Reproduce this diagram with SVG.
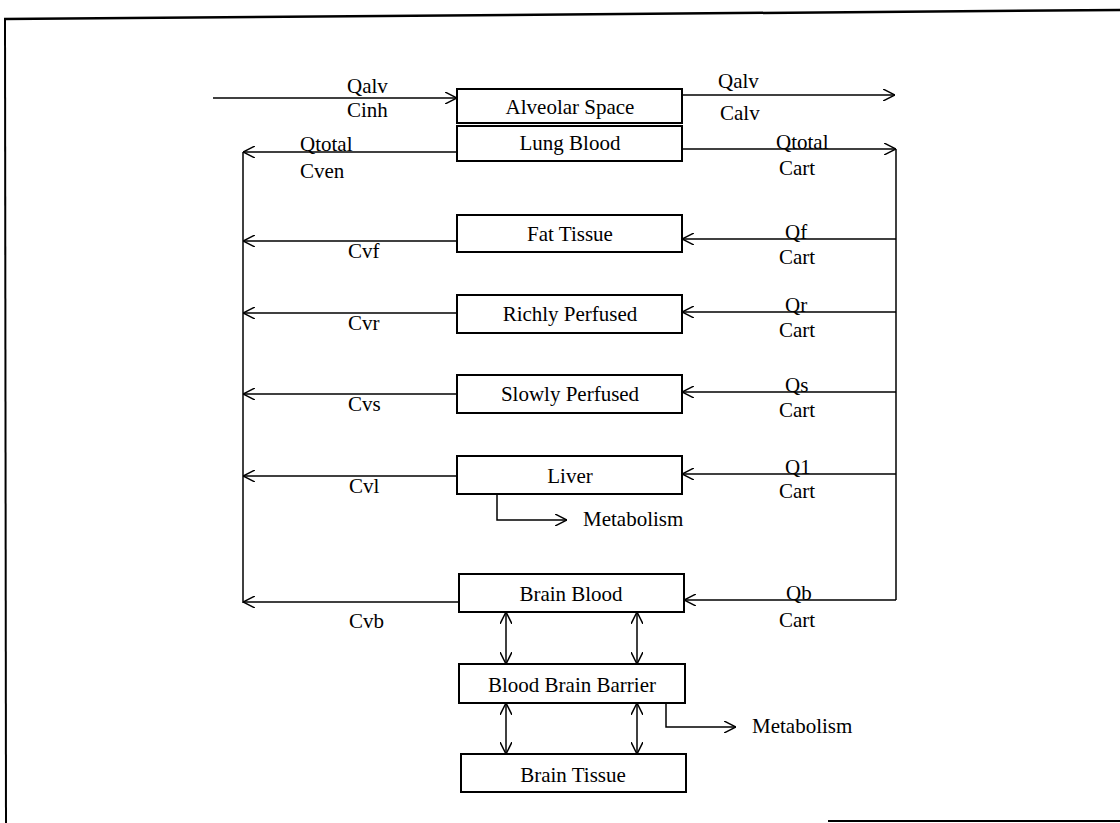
<svg xmlns="http://www.w3.org/2000/svg" width="1120" height="823" viewBox="0 0 1120 823">
<style>
.box{fill:#fff;stroke:#000;stroke-width:2}
.lbl{font-family:"Liberation Serif","Times New Roman",serif;font-size:21px;fill:#000}
.c{text-anchor:middle}
.ln{fill:none;stroke:#000;stroke-width:1.5}
</style>
<defs>
<marker id="ah" viewBox="0 0 12 12" refX="12" refY="6" markerWidth="12" markerHeight="12" markerUnits="userSpaceOnUse" orient="auto-start-reverse">
<path d="M0,0 L12,6 L0,12" fill="none" stroke="#000" stroke-width="1.5"/>
</marker>
</defs>
<g id="frame">
<path d="M4,19 L1120,10" fill="none" stroke="#000" stroke-width="2.5"/>
<path d="M5,19 L6,823" fill="none" stroke="#000" stroke-width="2"/>
<path d="M828,821 L1120,821" fill="none" stroke="#000" stroke-width="2"/>
</g>
<g id="connectors">
<path class="ln" d="M213,98 L457,98" marker-end="url(#ah)"/>
<path class="ln" d="M682,95 L895,95" marker-end="url(#ah)"/>
<path class="ln" d="M457,152 L243,152" marker-end="url(#ah)"/>
<path class="ln" d="M682,149 L896,149" marker-end="url(#ah)"/>
<path class="ln" d="M243,152 L243,603"/>
<path class="ln" d="M896,149 L896,600"/>
<path class="ln" d="M457,241 L243,241" marker-end="url(#ah)"/>
<path class="ln" d="M896,239 L682,239" marker-end="url(#ah)"/>
<path class="ln" d="M457,313 L243,313" marker-end="url(#ah)"/>
<path class="ln" d="M896,312 L682,312" marker-end="url(#ah)"/>
<path class="ln" d="M457,394 L243,394" marker-end="url(#ah)"/>
<path class="ln" d="M896,392 L682,392" marker-end="url(#ah)"/>
<path class="ln" d="M457,476 L243,476" marker-end="url(#ah)"/>
<path class="ln" d="M896,474 L682,474" marker-end="url(#ah)"/>
<path class="ln" d="M497,494 L497,520 L567,520" marker-end="url(#ah)"/>
<path class="ln" d="M459,602 L243,602" marker-end="url(#ah)"/>
<path class="ln" d="M896,600 L684,600" marker-end="url(#ah)"/>
<path class="ln" d="M506,612 L506,664" marker-start="url(#ah)" marker-end="url(#ah)"/>
<path class="ln" d="M637,612 L637,664" marker-start="url(#ah)" marker-end="url(#ah)"/>
<path class="ln" d="M506,703 L506,754" marker-start="url(#ah)" marker-end="url(#ah)"/>
<path class="ln" d="M637,703 L637,754" marker-start="url(#ah)" marker-end="url(#ah)"/>
<path class="ln" d="M666,703 L666,727 L736,727" marker-end="url(#ah)"/>
</g>
<g id="labels" class="lbl">
<text x="347" y="93">Qalv</text>
<text x="347" y="117">Cinh</text>
<text x="718" y="88">Qalv</text>
<text x="720" y="120">Calv</text>
<text x="300" y="151">Qtotal</text>
<text x="300" y="178">Cven</text>
<text x="776" y="149">Qtotal</text>
<text x="779" y="175">Cart</text>
<text x="348" y="258">Cvf</text>
<text x="785" y="239">Qf</text>
<text x="779" y="264">Cart</text>
<text x="348" y="330">Cvr</text>
<text x="785" y="312">Qr</text>
<text x="779" y="337">Cart</text>
<text x="348" y="411">Cvs</text>
<text x="785" y="392">Qs</text>
<text x="779" y="417">Cart</text>
<text x="349" y="493">Cvl</text>
<text x="785" y="474">Q1</text>
<text x="779" y="498">Cart</text>
<text x="583" y="526">Metabolism</text>
<text x="349" y="628">Cvb</text>
<text x="786" y="600">Qb</text>
<text x="779" y="627">Cart</text>
<text x="752" y="733">Metabolism</text>
</g>
<g id="alveolar"><rect class="box" x="457" y="89" width="225" height="34"/><text class="lbl c" x="570" y="114">Alveolar Space</text></g>
<g id="lungblood"><rect class="box" x="457" y="126" width="225" height="35"/><text class="lbl c" x="570" y="150">Lung Blood</text></g>
<g id="fat"><rect class="box" x="457" y="215" width="225" height="37"/><text class="lbl c" x="570" y="241">Fat Tissue</text></g>
<g id="richly"><rect class="box" x="457" y="295" width="225" height="38"/><text class="lbl c" x="570" y="321">Richly Perfused</text></g>
<g id="slowly"><rect class="box" x="457" y="375" width="225" height="38"/><text class="lbl c" x="570" y="401">Slowly Perfused</text></g>
<g id="liver"><rect class="box" x="457" y="456" width="225" height="38"/><text class="lbl c" x="570" y="483">Liver</text></g>
<g id="brainblood"><rect class="box" x="459" y="574" width="225" height="38"/><text class="lbl c" x="571" y="601">Brain Blood</text></g>
<g id="bbb"><rect class="box" x="459" y="664" width="226" height="39"/><text class="lbl c" x="572" y="692">Blood Brain Barrier</text></g>
<g id="braintissue"><rect class="box" x="461" y="754" width="225" height="38"/><text class="lbl c" x="573" y="782">Brain Tissue</text></g>
</svg>
